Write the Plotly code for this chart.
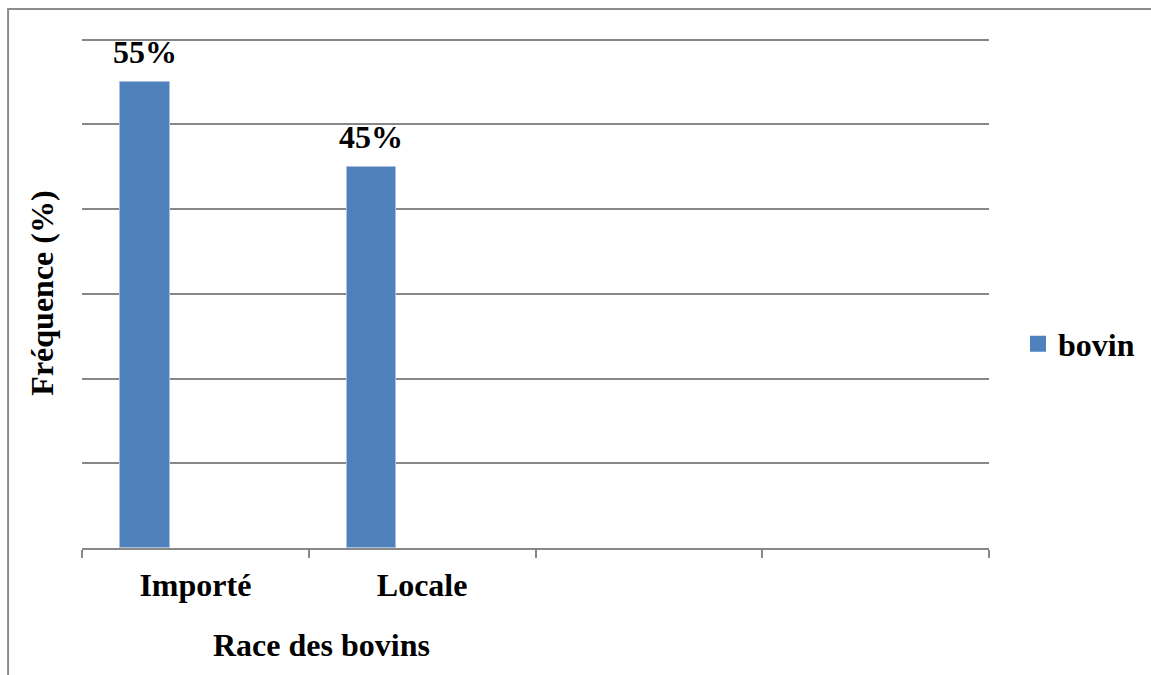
import plotly.graph_objects as go

# Chart data
categories = ["Importé", "Locale"]
blank_slots = [" ", "  "]          # empty category slots kept on the axis
values = [55, 45]
series_name = "bovin"

FONT = "Liberation Serif, Times New Roman, serif"
FS = 32
BAR_COLOR = "#4F81BD"
GRID_COLOR = "#878787"

# Plot-area geometry in pixels (used to place paper-referenced items)
W, H = 1151, 675
L, R, T, B = 82, 161, 38, 127
PW, PH = W - L - R, H - T - B
Y_MAX = 60.2


def px_x(p):
    return (p - L) / PW


def px_y(p):
    return (H - B - p) / PH


# Bars sit in the first of three slots within each category group
BAR_W = 0.22
BAR_OFF = -1 / 3

fig = go.Figure()
fig.add_trace(go.Bar(
    x=categories,
    y=values,
    width=BAR_W,
    offset=BAR_OFF,
    marker=dict(color=BAR_COLOR, line=dict(color="#a9c0df", width=1)),
    showlegend=False,
    name=series_name,
))
# Legend entry for the series
fig.add_trace(go.Scatter(
    x=[None], y=[None], mode="markers", name=series_name,
    marker=dict(symbol="square", size=16, color=BAR_COLOR),
))

# Value labels above each bar
for i, v in enumerate(values):
    fig.add_annotation(
        x=i + BAR_OFF + BAR_W / 2, y=v, xref="x", yref="y",
        text=f"{v}%", showarrow=False, yanchor="bottom", yshift=10,
        font=dict(family=FONT, size=FS, color="black", weight="bold"),
    )

# Horizontal axis title
fig.add_annotation(
    x=px_x(322), y=px_y(645), xref="paper", yref="paper",
    text="Race des bovins", showarrow=False, xanchor="center", yanchor="middle",
    font=dict(family=FONT, size=FS, color="black", weight="bold"),
)

# Outer chart frame
fig.add_shape(
    type="rect", xref="paper", yref="paper",
    x0=px_x(8), y0=px_y(H + 20), x1=px_x(W + 20), y1=px_y(9),
    line=dict(color="#8c8c8c", width=2), fillcolor="rgba(0,0,0,0)", layer="below",
)

fig.update_layout(
    width=W, height=H,
    margin=dict(l=L, r=R, t=T, b=B, pad=0),
    paper_bgcolor="white", plot_bgcolor="white",
    font=dict(family=FONT, size=FS, color="black"),
    legend=dict(
        x=px_x(1018), y=px_y(344), xanchor="left", yanchor="middle",
        font=dict(family=FONT, size=FS, color="black", weight="bold"),
        bgcolor="rgba(0,0,0,0)", borderwidth=0,
    ),
    xaxis=dict(
        type="category",
        categoryorder="array",
        categoryarray=categories + blank_slots,
        range=[-0.5, len(categories) + len(blank_slots) - 0.5],
        tickson="boundaries", ticks="outside", ticklen=8, tickwidth=2,
        tickcolor=GRID_COLOR, ticklabelstandoff=8,
        showline=True, linecolor=GRID_COLOR, linewidth=2,
        showgrid=False, zeroline=False,
        tickfont=dict(family=FONT, size=FS, color="black", weight="bold"),
        fixedrange=True,
    ),
    yaxis=dict(
        range=[0, Y_MAX], dtick=10, tick0=0,
        showgrid=True, gridcolor=GRID_COLOR, gridwidth=2,
        showticklabels=False, ticks="", showline=False, zeroline=False,
        title=dict(
            text="Fréquence (%)", standoff=17,
            font=dict(family=FONT, size=FS, color="black", weight="bold"),
        ),
        fixedrange=True,
    ),
    bargap=0,
)

fig.write_html("out.html")
